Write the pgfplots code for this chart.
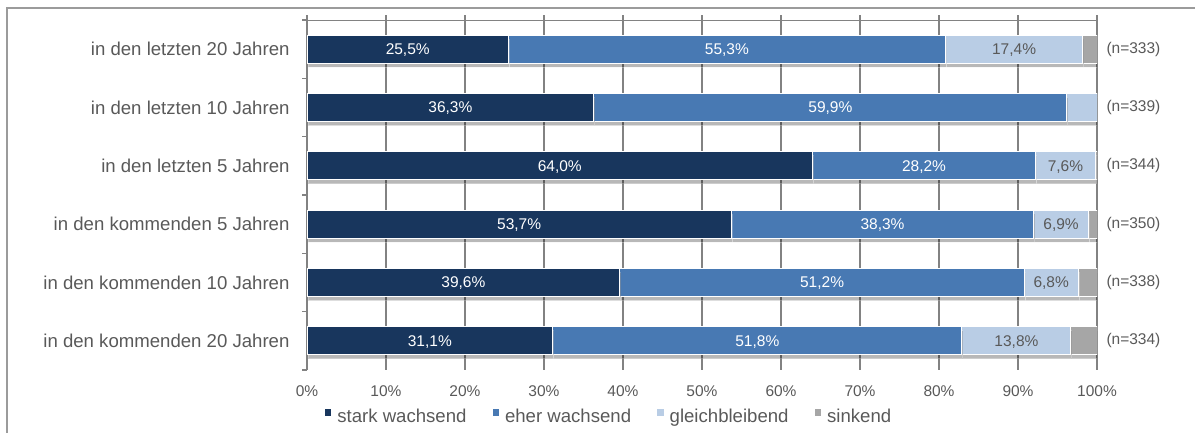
\documentclass[border=0pt]{standalone}
\usepackage{pgfplots}
\pgfplotsset{compat=1.18}
\usepackage{pgfplotstable}
\usepackage{fontspec}
\setmainfont{Liberation Sans}
\usetikzlibrary{shadows}
\definecolor{cDark}{RGB}{24,54,93}
\definecolor{cMed}{RGB}{72,121,179}
\definecolor{cLight}{RGB}{185,205,229}
\definecolor{cGray}{RGB}{166,166,166}
\definecolor{cText}{RGB}{89,89,89}
\definecolor{cGrid}{RGB}{130,130,130}

\pgfplotstableread{
y v lab
1 25.5 25,5\%
2 36.3 36,3\%
3 64.0 64,0\%
4 53.7 53,7\%
5 39.6 39,6\%
6 31.1 31,1\%
}\stark
\pgfplotstableread{
y v lab
1 55.3 55,3\%
2 59.9 59,9\%
3 28.2 28,2\%
4 38.3 38,3\%
5 51.2 51,2\%
6 51.8 51,8\%
}\eher
\pgfplotstableread{
y v lab
1 17.4 17,4\%
2 3.8 {}
3 7.6 7,6\%
4 6.9 6,9\%
5 6.8 6,8\%
6 13.8 13,8\%
}\gleich
\pgfplotstableread{
y v lab
1 1.8 {}
2 0.0 {}
3 0.2 {}
4 1.1 {}
5 2.4 {}
6 3.3 {}
}\sinkend

\newcommand{\legsq}[1]{\pgfsetfillcolor{#1}\pgfpathrectangle{\pgfpoint{0bp}{1bp}}{\pgfpoint{6.5bp}{6.5bp}}\pgfusepath{fill}}

\begin{document}
\begin{tikzpicture}[x=1bp,y=1bp]
\useasboundingbox (0,0) rectangle (1195,432);
\draw[cGrid!80, line width=1.2bp] (7,-5) -- (7,424) -- (1200,424);
\begin{axis}[
  at={(307bp,62bp)}, anchor=south west,
  scale only axis, width=790bp, height=350bp,
  xmin=0, xmax=100, ymin=0.5, ymax=6.5, y dir=reverse,
  xbar stacked, bar width=28bp,
  axis line style={draw=none},
  xtick={0,10,...,100},
  xticklabels={0\%,10\%,20\%,30\%,40\%,50\%,60\%,70\%,80\%,90\%,100\%},
  xtick pos=right, xticklabel pos=left,
  ytick={0.5,1.5,...,6.5}, yticklabels={},
  ytick pos=left,
  extra y ticks={1,2,3,4,5,6},
  extra y tick labels={in den letzten 20 Jahren,in den letzten 10 Jahren,in den letzten 5 Jahren,in den kommenden 5 Jahren,in den kommenden 10 Jahren,in den kommenden 20 Jahren},
  extra y tick style={tick style={draw=none}, yticklabel style={font=\fontsize{18.6bp}{22bp}\selectfont, color=cText, xshift=-9bp}},
  tick align=outside, major tick length=5bp,
  tick style={cGrid, line width=1.3bp},
  xmajorgrids, major grid style={cGrid, line width=1.3bp},
  xticklabel style={font=\fontsize{15.5bp}{18bp}\selectfont, color=cText, yshift=-7bp},
  point meta=explicit symbolic,
  nodes near coords,
  every node near coord/.append style={anchor=center, yshift=-1bp, font=\fontsize{15.5bp}{18bp}\selectfont},
  legend style={at={(0.3823,-0.1329)}, anchor=center, legend columns=4, draw=none, fill=none,
    font=\fontsize{18.6bp}{22bp}\selectfont, text=cText,
    /tikz/every even column/.append style={column sep=24bp},
    /tikz/every odd column/.append style={column sep=4bp}},
]
\addplot[fill=cDark, draw=white, line width=1bp, drop shadow={shadow xshift=1bp, shadow yshift=-4bp, opacity=0.28, fill=black},
  every node near coord/.append style={color=white},
  legend image code/.code={\legsq{cDark}}] table[x=v,y=y,meta=lab]{\stark};
\addplot[fill=cMed, draw=white, line width=1bp, drop shadow={shadow xshift=1bp, shadow yshift=-4bp, opacity=0.28, fill=black},
  every node near coord/.append style={color=white},
  legend image code/.code={\legsq{cMed}}] table[x=v,y=y,meta=lab]{\eher};
\addplot[fill=cLight, draw=white, line width=1bp, drop shadow={shadow xshift=1bp, shadow yshift=-4bp, opacity=0.28, fill=black},
  every node near coord/.append style={color=cText},
  legend image code/.code={\legsq{cLight}}] table[x=v,y=y,meta=lab]{\gleich};
\addplot[fill=cGray, draw=white, line width=1bp, drop shadow={shadow xshift=1bp, shadow yshift=-4bp, opacity=0.28, fill=black},
  every node near coord/.append style={color=cText},
  legend image code/.code={\legsq{cGray}}] table[x=v,y=y,meta=lab]{\sinkend};
\legend{stark wachsend,eher wachsend,gleichbleibend,sinkend}
\draw[cGrid, line width=1.3bp] (axis cs:0,6.5) -- (axis cs:0,0.5) -- (axis cs:100,0.5);
\end{axis}
\begin{axis}[
  at={(307bp,62bp)}, anchor=south west,
  scale only axis, width=790bp, height=350bp,
  xmin=0, xmax=100, ymin=0.5, ymax=6.5, y dir=reverse,
  axis line style={draw=none}, xtick=\empty,
  ytick={1,2,3,4,5,6},
  yticklabels={(n=333),(n=339),(n=344),(n=350),(n=338),(n=334)},
  yticklabel pos=right, ytick style={draw=none},
  yticklabel style={font=\fontsize{15.5bp}{18bp}\selectfont, color=cText, xshift=6bp},
]
\end{axis}
\end{tikzpicture}
\end{document}
